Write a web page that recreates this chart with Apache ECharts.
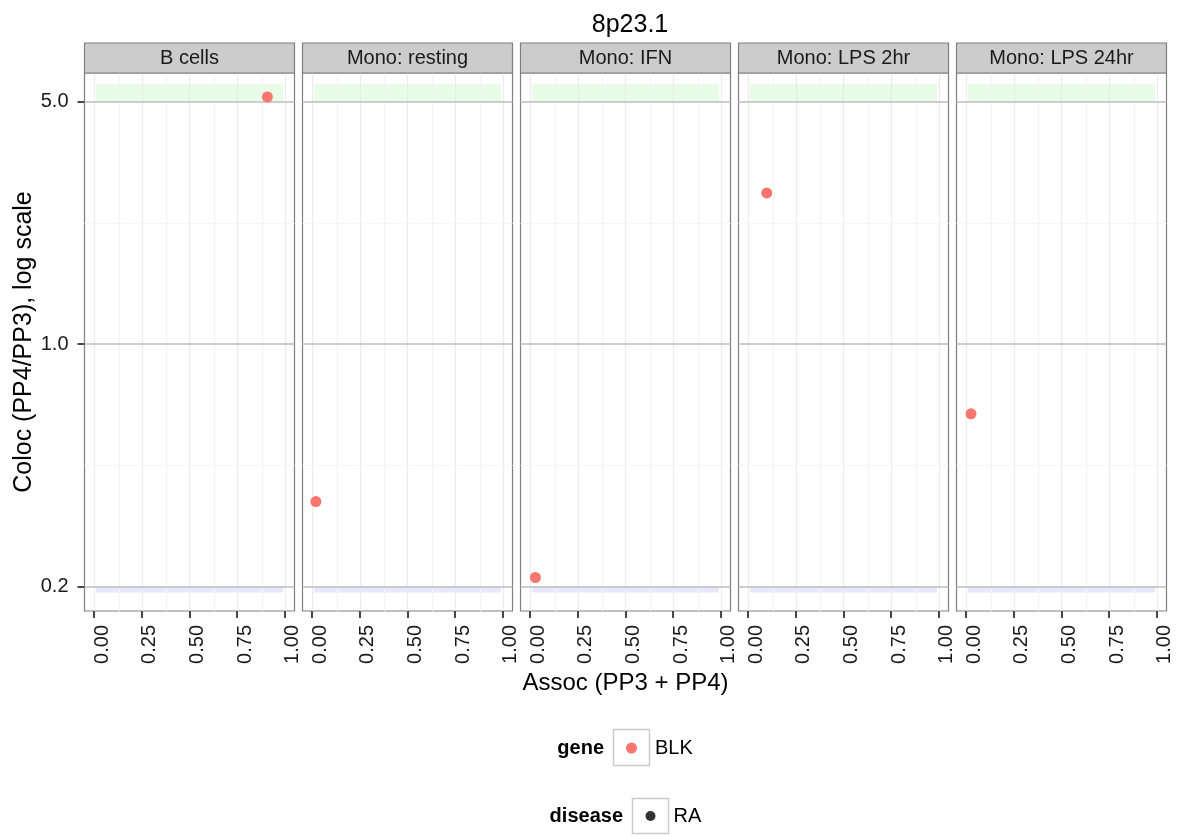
<!DOCTYPE html>
<html><head><meta charset="utf-8">
<script src="https://cdn.jsdelivr.net/npm/echarts@6/dist/echarts.min.js"></script>
<style>html,body{margin:0;padding:0;background:#fff}#c{width:1180px;height:836px}</style>
</head><body><div id="c"></div>
<script>
// ---- data ----
const chartTitle = '8p23.1';
const panels = ['B cells', 'Mono: resting', 'Mono: IFN', 'Mono: LPS 2hr', 'Mono: LPS 24hr'];
const assoc = [0.908, 0.020, 0.028, 0.098, 0.026];   // PP3 + PP4
const coloc = [5.16, 0.352, 0.2126, 2.73, 0.63];      // PP4/PP3
const xTickValues = [0, 0.25, 0.5, 0.75, 1];
const xTickLabels = ['0.00', '0.25', '0.50', '0.75', '1.00'];
const xMinorValues = [0.125, 0.375, 0.625, 0.875];
const yTickValues = [0.2, 1.0, 5.0];
const yTickLabels = ['0.2', '1.0', '5.0'];
const yMinorValues = [0.4472, 2.236];
const upperBand = [5.0, 5.62];
const lowerBand = [0.1925, 0.2];
const bandX = [0.01, 0.99];
const geneName = 'BLK';
const diseaseName = 'RA';

// ---- layout ----
const FONT = 'Liberation Sans, Arial, Helvetica, sans-serif';
const P_LEFT = 84.5, P_STEP = 218, P_W = 210, P_TOP = 73, P_H = 538;
const Y_MIN = -0.769, Y_MAX = 0.7818;
const lg = v => Math.log10(v);
const yTickPos = yTickValues.map(lg);

const grids = [], xAxes = [], yAxes = [], series = [], graphics = [];
panels.forEach((name, i) => {
  const left = P_LEFT + P_STEP * i;
  grids.push({ left: left, top: P_TOP, width: P_W, height: P_H, show: true,
    backgroundColor: '#fff', borderColor: '#7f7f7f', borderWidth: 1.2, containLabel: false });
  xAxes.push({
    gridIndex: i, type: 'value', min: -0.05, max: 1.05, position: 'bottom',
    axisLine: { show: false, onZero: false }, splitLine: { show: false },
    axisTick: { show: true, customValues: xTickValues, length: 7, lineStyle: { color: '#333', width: 1.8 } },
    axisLabel: { show: true, customValues: xTickValues, rotate: 90, margin: 14, fontSize: 20,
      fontFamily: FONT, color: '#1a1a1a', verticalAlign: 'top', lineHeight: 16,
      formatter: v => { const k = xTickValues.findIndex(t => Math.abs(t - v) < 1e-9); return k >= 0 ? xTickLabels[k] : ''; } },
    name: i === 2 ? 'Assoc (PP3 + PP4)' : '', nameLocation: 'middle', nameGap: 58,
    nameTextStyle: { fontSize: 24, fontFamily: FONT, color: '#000' }
  });
  yAxes.push({
    gridIndex: i, type: 'value', min: Y_MIN, max: Y_MAX, position: 'left', show: i === 0,
    axisLine: { show: false, onZero: false }, splitLine: { show: false },
    axisTick: { show: true, customValues: yTickPos, length: 7, lineStyle: { color: '#333', width: 1.8 } },
    axisLabel: { show: true, customValues: yTickPos, margin: 16, fontSize: 20,
      fontFamily: FONT, color: '#1a1a1a',
      formatter: v => { const k = yTickPos.findIndex(t => Math.abs(t - v) < 1e-6); return k >= 0 ? yTickLabels[k] : ''; } },
    name: i === 0 ? 'Coloc (PP4/PP3), log scale' : '', nameLocation: 'middle', nameGap: 48,
    nameTextStyle: { fontSize: 25, fontFamily: FONT, color: '#000' }
  });
  // light grid lines
  const gl = [];
  xTickValues.forEach(v => gl.push({ xAxis: v, lineStyle: { color: '#ebebeb', width: 1.2, type: 'solid' } }));
  xMinorValues.forEach(v => gl.push({ xAxis: v, lineStyle: { color: '#f4f4f4', width: 1.2, type: 'solid' } }));
  yMinorValues.forEach(v => gl.push({ yAxis: lg(v), lineStyle: { color: '#f6f6f6', width: 1.2, type: 'solid' } }));
  series.push({ type: 'scatter', xAxisIndex: i, yAxisIndex: i, data: [], z: 1, silent: true,
    markLine: { silent: true, symbol: 'none', label: { show: false }, animation: false, data: gl } });
  // bands
  series.push({ type: 'scatter', xAxisIndex: i, yAxisIndex: i, data: [], z: 2, silent: true,
    markArea: { silent: true, animation: false, label: { show: false }, data: [
      [{ xAxis: bandX[0], yAxis: lg(upperBand[0]), itemStyle: { color: '#e8fce8' } }, { xAxis: bandX[1], yAxis: lg(upperBand[1]) }],
      [{ xAxis: bandX[0], yAxis: lg(lowerBand[0]), itemStyle: { color: '#e8e8fc' } }, { xAxis: bandX[1], yAxis: lg(lowerBand[1]) }]
    ] } });
  // major horizontal lines
  series.push({ type: 'scatter', xAxisIndex: i, yAxisIndex: i, data: [], z: 3, silent: true,
    markLine: { silent: true, symbol: 'none', label: { show: false }, animation: false,
      data: yTickValues.map(v => ({ yAxis: lg(v), lineStyle: { color: '#bdbdbd', width: 1.6, type: 'solid' } })) } });
  // data point
  series.push({ type: 'scatter', name: geneName, xAxisIndex: i, yAxisIndex: i, z: 5,
    symbol: 'circle', symbolSize: 11, itemStyle: { color: '#F8766D', opacity: 1 },
    data: [[assoc[i], lg(coloc[i])]] });
  // strip
  graphics.push({ type: 'rect', shape: { x: left, y: 43, width: P_W, height: 30 },
    style: { fill: '#cccccc', stroke: '#7f7f7f', lineWidth: 1.2 }, z: 10 });
  graphics.push({ type: 'text', x: left + P_W / 2, y: 58,
    style: { text: name, fontSize: 20, fontFamily: FONT, fill: '#1a1a1a', align: 'center', verticalAlign: 'middle' }, z: 11 });
});
// dummy series for disease legend
series.push({ type: 'scatter', name: diseaseName, xAxisIndex: 0, yAxisIndex: 0, data: [],
  symbol: 'circle', itemStyle: { color: '#000' } });

// legend boxes and titles
graphics.push({ type: 'rect', shape: { x: 613.5, y: 729.5, width: 36, height: 36 },
  style: { fill: '#fff', stroke: '#cccccc', lineWidth: 1.5 }, z: 0 });
graphics.push({ type: 'text', x: 604, y: 748,
  style: { text: 'gene', fontSize: 20, fontWeight: 'bold', fontFamily: FONT, fill: '#000', align: 'right', verticalAlign: 'middle' } });
graphics.push({ type: 'rect', shape: { x: 632.5, y: 798.5, width: 36, height: 35 },
  style: { fill: '#fff', stroke: '#cccccc', lineWidth: 1.5 }, z: 0 });
graphics.push({ type: 'text', x: 623, y: 816,
  style: { text: 'disease', fontSize: 20, fontWeight: 'bold', fontFamily: FONT, fill: '#000', align: 'right', verticalAlign: 'middle' } });

const chart = echarts.init(document.getElementById('c'), null, { renderer: 'canvas' });
chart.setOption({
  animation: false,
  backgroundColor: '#fff',
  title: { text: chartTitle, left: 625, textAlign: 'center', top: 8,
    textStyle: { fontSize: 25, fontWeight: 'normal', fontFamily: FONT, color: '#000' } },
  grid: grids, xAxis: xAxes, yAxis: yAxes, series: series,
  legend: [
    { data: [geneName], left: 626, top: 738, padding: 0, itemWidth: 11, itemHeight: 11, icon: 'circle',
      selectedMode: false, textStyle: { fontSize: 20, fontFamily: FONT, color: '#000', padding: [0, 0, 0, 13] } },
    { data: [{ name: diseaseName, itemStyle: { color: '#000' } }], left: 645.5, top: 806, padding: 0, itemWidth: 10, itemHeight: 10, icon: 'circle',
      selectedMode: false, textStyle: { fontSize: 20, fontFamily: FONT, color: '#000', padding: [0, 0, 0, 13] } }
  ],
  graphic: graphics
});
</script></body></html>
